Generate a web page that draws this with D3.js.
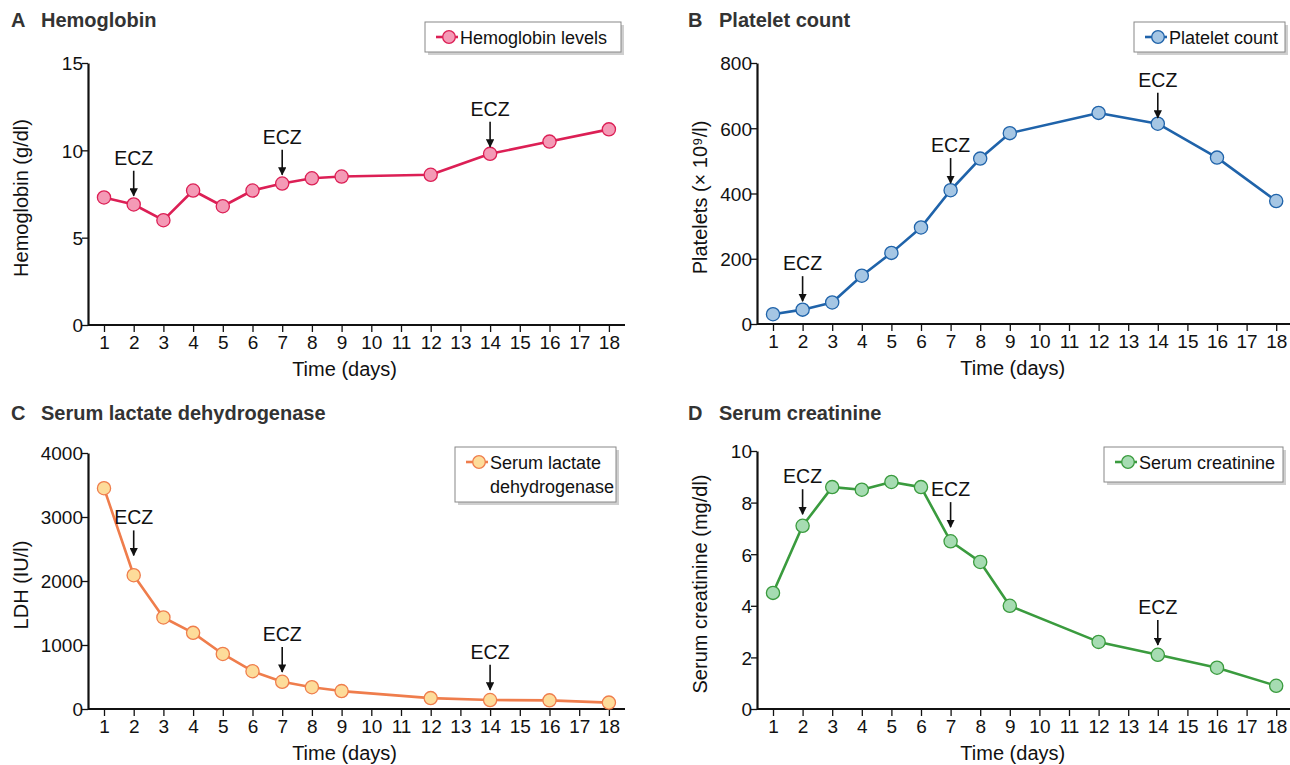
<!DOCTYPE html>
<html>
<head>
<meta charset="utf-8">
<script src="https://cdn.jsdelivr.net/npm/d3@7"></script>
<style>
  body { margin: 0; background: #fff; }
  text { font-family: "Liberation Sans", Arial, sans-serif; }
</style>
</head>
<body>
<script>
// chart values
var days = [1, 2, 3, 4, 5, 6, 7, 8, 9, 12, 14, 16, 18];
var xTicks = d3.range(1, 19);
var eczDays = [2, 7, 14];

var hemoglobin = [7.3, 6.9, 6.0, 7.7, 6.8, 7.7, 8.1, 8.4, 8.5, 8.6, 9.8, 10.5, 11.2];
var platelets = [30, 44, 66, 148, 218, 296, 410, 507, 585, 647, 614, 510, 377];
var ldh = [3450, 2090, 1430, 1190, 860, 590, 425, 340, 280, 170, 140, 135, 100];
var creatinine = [4.5, 7.1, 8.6, 8.5, 8.8, 8.6, 6.5, 5.7, 4.0, 2.6, 2.1, 1.6, 0.9];

var hbTicks = [0, 5, 10, 15];
var pltTicks = [0, 200, 400, 600, 800];
var ldhTicks = [0, 1000, 2000, 3000, 4000];
var crTicks = [0, 2, 4, 6, 8, 10];

// arrow tip value for each ECZ annotation (data units)
var hbEczTip = [7.4, 8.6, 10.2];
var pltEczTip = [70, 432, 632];
var ldhEczTip = [2400, 580, 300];
var crEczTip = [7.55, 7.05, 2.48];

var panels = [
  { letter: 'A', title: 'Hemoglobin', values: hemoglobin, ticks: hbTicks, eczTip: hbEczTip,
    yLabel: 'Hemoglobin (g/dl)', legend: ['Hemoglobin levels'],
    line: '#dc1f55', fill: '#f49ab6',
    left: 88, right: 625, top: 63, bottom: 325, titleY: 27,
    lgX: 425, lgY: 22, lgW: 196, lgH: 30, axisTitleX: 28 },
  { letter: 'B', title: 'Platelet count', values: platelets, ticks: pltTicks, eczTip: pltEczTip,
    yLabel: 'Platelets (× 10⁹/l)', legend: ['Platelet count'],
    line: '#1f63aa', fill: '#a5c6e4',
    left: 757, right: 1292, top: 63, bottom: 324, titleY: 27,
    lgX: 1134, lgY: 22, lgW: 151, lgH: 30, axisTitleX: 707 },
  { letter: 'C', title: 'Serum lactate dehydrogenase', values: ldh, ticks: ldhTicks, eczTip: ldhEczTip,
    yLabel: 'LDH (IU/l)', legend: ['Serum lactate', 'dehydrogenase'],
    line: '#ef7d4c', fill: '#fddc9a',
    left: 88, right: 625, top: 453, bottom: 709, titleY: 420,
    lgX: 455, lgY: 447, lgW: 161, lgH: 55, axisTitleX: 28 },
  { letter: 'D', title: 'Serum creatinine', values: creatinine, ticks: crTicks, eczTip: crEczTip,
    yLabel: 'Serum creatinine (mg/dl)', legend: ['Serum creatinine'],
    line: '#3a9b3e', fill: '#a6dcb2',
    left: 757, right: 1292, top: 451, bottom: 709, titleY: 420,
    lgX: 1104, lgY: 447, lgW: 179, lgH: 35, axisTitleX: 707 }
];

var svg = d3.select('body').append('svg')
  .attr('width', 1290)
  .attr('height', 765);

var defs = svg.append('defs');
defs.append('marker')
  .attr('id', 'arrow')
  .attr('viewBox', '0 0 10 10')
  .attr('refX', 9).attr('refY', 5)
  .attr('markerWidth', 5.2).attr('markerHeight', 5.2)
  .attr('markerUnits', 'strokeWidth')
  .attr('orient', 'auto')
  .append('path')
  .attr('d', 'M0,0 L10,5 L0,10 z')
  .attr('fill', '#111');

panels.forEach(drawPanel);

function drawPanel(p) {
  var g = svg.append('g');
  var isLeft = p.left < 700;
  var pxPerDay = isLeft ? 29.7 : 29.6;
  var x = d3.scaleLinear()
    .domain([1 - 16 / pxPerDay, 18 + 16 / pxPerDay])
    .range([p.left, p.left + (17 + 32 / pxPerDay) * pxPerDay]);
  var y = d3.scaleLinear()
    .domain([0, d3.max(p.ticks)])
    .range([p.bottom, p.top]);

  // panel title
  g.append('text')
    .attr('x', isLeft ? 11 : 688)
    .attr('y', p.titleY)
    .attr('font-size', 20).attr('font-weight', 'bold')
    .attr('fill', '#333')
    .text(p.letter);
  g.append('text')
    .attr('x', isLeft ? 41 : 719)
    .attr('y', p.titleY)
    .attr('font-size', 20).attr('font-weight', 'bold')
    .attr('fill', '#333')
    .text(p.title);

  // axes
  var xAxis = g.append('g')
    .attr('transform', 'translate(0,' + p.bottom + ')')
    .call(d3.axisBottom(x).tickValues(xTicks).tickSize(7).tickSizeOuter(0));
  xAxis.select('.domain').attr('d', 'M' + p.left + ',0H' + (p.right));
  var yAxis = g.append('g')
    .attr('transform', 'translate(' + p.left + ',0)')
    .call(d3.axisLeft(y).tickValues(p.ticks).tickFormat(d3.format('d')).tickSize(6).tickSizeOuter(0));

  [xAxis, yAxis].forEach(function(a) {
    a.select('.domain').attr('stroke', '#111').attr('stroke-width', 2.2);
    a.selectAll('.tick line').attr('stroke', '#111').attr('stroke-width', 1.3);
    a.selectAll('.tick text')
      .attr('font-family', '"Liberation Sans", Arial, sans-serif')
      .attr('font-size', 19).attr('fill', '#111');
  });
  xAxis.selectAll('.tick text').attr('dy', '0.9em').attr('y', 7);
  yAxis.selectAll('.tick text').attr('x', -5).attr('dy', '0.36em');

  // axis titles
  g.append('text')
    .attr('x', x(9.1))
    .attr('y', p.bottom + 51)
    .attr('text-anchor', 'middle')
    .attr('font-size', 20).attr('fill', '#111')
    .text('Time (days)');
  g.append('text')
    .attr('transform', 'translate(' + p.axisTitleX + ',' + ((p.top + p.bottom) / 2 + 4) + ') rotate(-90)')
    .attr('text-anchor', 'middle')
    .attr('font-size', 20).attr('fill', '#111')
    .text(p.yLabel);

  // data line and points
  var pts = days.map(function(d, i) { return { day: d, v: p.values[i] }; });
  g.append('path')
    .datum(pts)
    .attr('fill', 'none')
    .attr('stroke', p.line)
    .attr('stroke-width', 2.6)
    .attr('stroke-linejoin', 'round')
    .attr('d', d3.line().x(function(d) { return x(d.day); }).y(function(d) { return y(d.v); }));
  g.selectAll('circle.pt')
    .data(pts)
    .enter().append('circle')
    .attr('class', 'pt')
    .attr('cx', function(d) { return x(d.day); })
    .attr('cy', function(d) { return y(d.v); })
    .attr('r', 6.6)
    .attr('fill', p.fill)
    .attr('stroke', p.line)
    .attr('stroke-width', 1.3);

  // ECZ annotations
  eczDays.forEach(function(d, i) {
    var tipY = y(p.eczTip[i]);
    g.append('line')
      .attr('x1', x(d)).attr('x2', x(d))
      .attr('y1', tipY - 25).attr('y2', tipY)
      .attr('stroke', '#111').attr('stroke-width', 1.6)
      .attr('marker-end', 'url(#arrow)');
    g.append('text')
      .attr('x', x(d)).attr('y', tipY - 31)
      .attr('text-anchor', 'middle')
      .attr('font-size', 19.5).attr('fill', '#111')
      .text('ECZ');
  });

  // legend
  var lg = g.append('g').attr('transform', 'translate(' + p.lgX + ',' + p.lgY + ')');
  lg.append('rect')
    .attr('x', 3).attr('y', 3)
    .attr('width', p.lgW).attr('height', p.lgH)
    .attr('fill', '#cfcfcf');
  lg.append('rect')
    .attr('width', p.lgW).attr('height', p.lgH)
    .attr('fill', '#fff')
    .attr('stroke', '#888').attr('stroke-width', 1);
  lg.append('line')
    .attr('x1', 11).attr('x2', 33)
    .attr('y1', 15).attr('y2', 15)
    .attr('stroke', p.line).attr('stroke-width', 2.6);
  lg.append('circle')
    .attr('cx', 24).attr('cy', 15).attr('r', 6.3)
    .attr('fill', p.fill).attr('stroke', p.line).attr('stroke-width', 1.3);
  p.legend.forEach(function(t, i) {
    lg.append('text')
      .attr('x', 35).attr('y', 21.5 + i * 24)
      .attr('font-size', 18).attr('fill', '#111')
      .text(t);
  });
}
</script>
</body>
</html>
